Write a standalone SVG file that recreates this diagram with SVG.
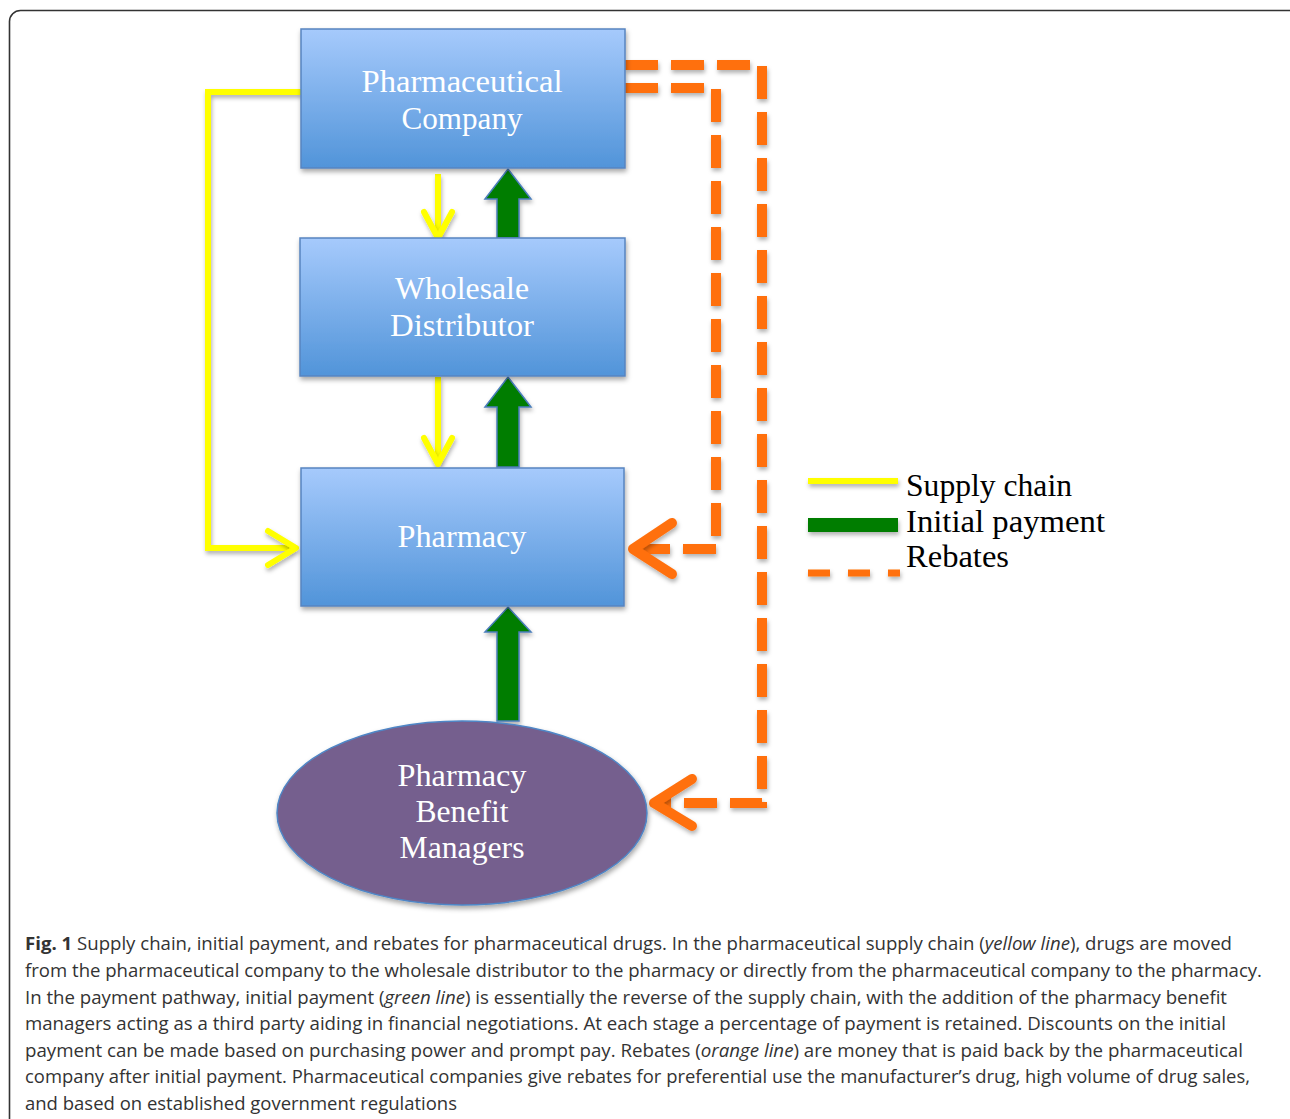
<svg xmlns="http://www.w3.org/2000/svg" width="1290" height="1119" viewBox="0 0 1290 1119">
<defs>
<linearGradient id="boxg" x1="0" y1="0" x2="0" y2="1">
<stop offset="0" stop-color="#a6cafc"/>
<stop offset="1" stop-color="#5194d9"/>
</linearGradient>
<filter id="sh" x="-10%" y="-10%" width="125%" height="130%">
<feDropShadow dx="1" dy="3" stdDeviation="2.5" flood-color="#000" flood-opacity="0.35"/>
</filter>
<filter id="sh2" filterUnits="userSpaceOnUse" x="0" y="0" width="1290" height="1119">
<feDropShadow dx="1" dy="3" stdDeviation="2" flood-color="#000" flood-opacity="0.3"/>
</filter>
</defs>
<style>
.box{fill:url(#boxg);stroke:#5784c0;stroke-width:1.5;filter:url(#sh)}
.lbl{font-family:"Liberation Serif","DejaVu Serif",serif;font-size:32px;fill:#ffffff;text-anchor:middle}
.yl{fill:none;stroke:#ffff00;stroke-width:6;filter:url(#sh2)}
.ya{fill:none;stroke:#ffff00;stroke-width:6;stroke-linecap:round;stroke-linejoin:round;filter:url(#sh2)}
.ga{fill:#007d00;stroke:#4a7ebb;stroke-width:1.5;filter:url(#sh2)}
.od{fill:none;stroke:#ff700c;stroke-width:10;stroke-dasharray:33 13;filter:url(#sh2)}
.oa{fill:none;stroke:#ff700c;stroke-width:10;stroke-linecap:round;stroke-linejoin:round;filter:url(#sh2)}
.leg{font-family:"Liberation Serif","DejaVu Serif",serif;font-size:32px;fill:#000}
.cap{font-family:"Open Sans","Noto Sans",sans-serif;font-size:18px;fill:#333}
</style>
<rect x="0" y="0" width="1290" height="1119" fill="#ffffff"/>
<rect id="frame" x="9.5" y="10.5" width="1300" height="1130" rx="11" fill="none" stroke="#333" stroke-width="1.6"/>

<g id="connectors">
<path class="yl" d="M301,92 H208 V548 H292"/>
<path class="ya" d="M268,531 L296,548 L268,565"/>
<path class="yl" d="M438,174 V236"/>
<path class="ya" d="M424,212 L438,238 L452,212"/>
<path class="yl" d="M438,377 V462"/>
<path class="ya" d="M424,438 L438,464 L452,438"/>
<polygon class="ga" points="508,169 531,199 519,199 519,238 497,238 497,199 485,199"/>
<polygon class="ga" points="508,377 531,407 519,407 519,467 497,467 497,407 485,407"/>
<polygon class="ga" points="508,607 531,632 519,632 519,721 497,721 497,632 485,632"/>
<path class="od" d="M625,88 H716 V549 H640"/>
<path class="oa" d="M672,523 L633,549 L672,574"/>
<path class="od" d="M625,65 H762 V803 H660"/>
<path class="oa" d="M692,779 L654,803 L692,826"/>
</g>

<g id="pharma-company">
<rect class="box" x="301" y="29" width="324" height="139"/>
<text class="lbl" x="462" y="92" textLength="201" lengthAdjust="spacingAndGlyphs">Pharmaceutical</text>
<text class="lbl" x="462" y="129" textLength="121" lengthAdjust="spacingAndGlyphs">Company</text>
</g>
<g id="wholesale">
<rect class="box" x="300" y="238" width="325" height="138"/>
<text class="lbl" x="462" y="299" textLength="134" lengthAdjust="spacingAndGlyphs">Wholesale</text>
<text class="lbl" x="462" y="336" textLength="144" lengthAdjust="spacingAndGlyphs">Distributor</text>
</g>
<g id="pharmacy">
<rect class="box" x="301" y="468" width="323" height="138"/>
<text class="lbl" x="462" y="547" textLength="129" lengthAdjust="spacingAndGlyphs">Pharmacy</text>
</g>
<g id="pbm">
<ellipse cx="462" cy="813" rx="185" ry="92" fill="#755f8e" stroke="#4f86c6" stroke-width="1.5" filter="url(#sh)"/>
<text class="lbl" x="462" y="786" textLength="129" lengthAdjust="spacingAndGlyphs">Pharmacy</text>
<text class="lbl" x="462" y="822" textLength="93" lengthAdjust="spacingAndGlyphs">Benefit</text>
<text class="lbl" x="462" y="858" textLength="125" lengthAdjust="spacingAndGlyphs">Managers</text>
</g>

<g id="legend">
<line x1="808" y1="481" x2="898" y2="481" stroke="#ffff00" stroke-width="6" filter="url(#sh2)"/>
<rect x="808" y="518" width="90" height="14" fill="#007d00" filter="url(#sh2)"/>
<line x1="808" y1="573" x2="900" y2="573" stroke="#ff700c" stroke-width="7" stroke-dasharray="22 18" filter="url(#sh2)"/>
<text class="leg" x="906" y="496" textLength="166" lengthAdjust="spacingAndGlyphs">Supply chain</text>
<text class="leg" x="906" y="532" textLength="199" lengthAdjust="spacingAndGlyphs">Initial payment</text>
<text class="leg" x="906" y="567" textLength="103" lengthAdjust="spacingAndGlyphs">Rebates</text>
</g>

<g id="caption">
<text class="cap" x="25" y="950" textLength="1207" lengthAdjust="spacingAndGlyphs"><tspan font-weight="bold">Fig. 1</tspan> Supply chain, initial payment, and rebates for pharmaceutical drugs. In the pharmaceutical supply chain (<tspan font-style="italic">yellow line</tspan>), drugs are moved</text>
<text class="cap" x="25" y="977" textLength="1237" lengthAdjust="spacingAndGlyphs">from the pharmaceutical company to the wholesale distributor to the pharmacy or directly from the pharmaceutical company to the pharmacy.</text>
<text class="cap" x="25" y="1004" textLength="1202" lengthAdjust="spacingAndGlyphs">In the payment pathway, initial payment (<tspan font-style="italic">green line</tspan>) is essentially the reverse of the supply chain, with the addition of the pharmacy benefit</text>
<text class="cap" x="25" y="1030" textLength="1201" lengthAdjust="spacingAndGlyphs">managers acting as a third party aiding in financial negotiations. At each stage a percentage of payment is retained. Discounts on the initial</text>
<text class="cap" x="25" y="1057" textLength="1218" lengthAdjust="spacingAndGlyphs">payment can be made based on purchasing power and prompt pay. Rebates (<tspan font-style="italic">orange line</tspan>) are money that is paid back by the pharmaceutical</text>
<text class="cap" x="25" y="1083" textLength="1225" lengthAdjust="spacingAndGlyphs">company after initial payment. Pharmaceutical companies give rebates for preferential use the manufacturer’s drug, high volume of drug sales,</text>
<text class="cap" x="25" y="1110" textLength="432" lengthAdjust="spacingAndGlyphs">and based on established government regulations</text>
</g>
</svg>
